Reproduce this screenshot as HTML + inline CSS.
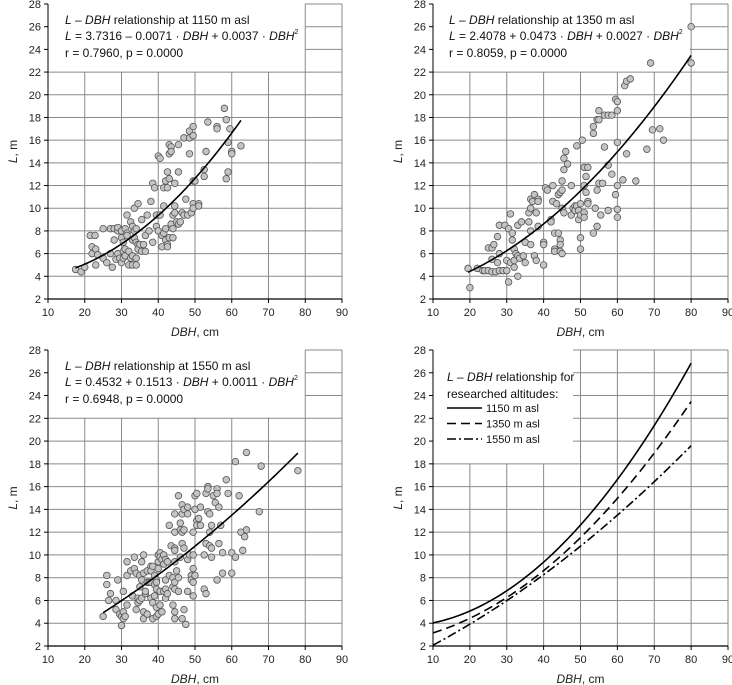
<!DOCTYPE html>
<html><head><meta charset="utf-8"><style>
html,body{margin:0;padding:0;background:#fff}
svg{display:block;font-family:"Liberation Sans",sans-serif}
</style></head><body>
<svg id="chart" width="732" height="685" viewBox="0 0 732 685"></svg>
<script>
const xTicks=[10,20,30,40,50,60,70,80,90];
const yTicks=[2,4,6,8,10,12,14,16,18,20,22,24,26,28];
const coef1150=[3.7316,-0.0071,0.0037];
const coef1350=[2.4078,0.0473,0.0027];
const coef1550=[0.4532,0.1513,0.0011];
const range1150=[17.5,62.5];
const range1350=[19.5,80];
const range1550=[25,78];
const rangeAll=[10,80];
const dbh1150=[17.5,19,20,21.5,22.8,22,22,23,23.5,23,25,25,26,27,28,27,28,28.5,29,29,29,29.5,27.5,30,30,30.5,30.5,30,30.5,31,31,31,31.5,31.5,31.5,32,32,32.5,32.5,33,33,33,33,33.5,33.5,33.5,34,34,34,34,34.5,34.5,34.5,35,35.5,35.5,36,36.5,36.5,37,37.5,38,38.5,38.5,39,39.5,39.5,40,40,40.5,40.5,41,41,41.5,41.5,41.5,42,42,42,42.5,42.5,42.5,42.5,43,43,43,43,43.5,43.5,43.5,44,44,44,44.5,44.5,44.5,45,45.5,45.5,45.5,46,46.5,47,47,47.5,48,48.5,48.5,48.5,49,49.5,49.5,49.5,49.5,49.5,50,51,51,52.5,52.5,53,53.5,56,56,58,58.5,58.5,59,59,59.5,60,60,62.5];
const l1150=[4.6,4.4,4.8,7.6,7.6,6.6,6.0,6.4,5.9,5.0,8.2,5.6,5.2,8.2,8.2,6.0,7.2,5.5,8.0,8.3,6.0,5.6,4.8,8.0,7.4,7.0,6.2,5.2,5.6,8.2,6.4,5.8,9.4,7.8,7.6,6.2,5.0,8.8,5.6,8.4,7.2,5.8,5.0,10.0,8.0,7.4,8.2,7.0,5.6,5.0,10.4,6.8,6.4,6.8,9.0,6.2,6.8,7.6,6.2,9.4,8.0,10.6,7.0,12.2,11.8,9.4,8.4,8.0,14.6,14.4,9.4,7.6,6.6,7.8,11.8,10.2,8.2,7.2,12.4,13.2,11.8,6.8,6.6,12.6,7.4,15.6,14.8,15.4,15.0,8.6,8.2,7.4,9.4,10.2,12.2,9.6,8.8,15.6,13.2,8.6,8.8,9.6,16.2,9.4,10.8,9.4,16.2,14.8,16.8,9.6,17.2,16.4,12.4,10.4,10.0,12.4,10.4,10.2,13.4,12.8,15.0,17.6,17.2,17.0,18.8,17.8,12.6,13.2,15.8,17.0,15.0,14.8,15.5];
const dbh1350=[19.5,20,22,23.5,24,25,25,26,26,26,26.5,27,27.5,27.5,28,28,28,29,29.5,30,30,30.5,30.5,31,31,31.5,31.5,32,32,32,32.5,33,33,33,33.5,34,34.5,35,35,36,36,36.5,36.5,36.5,36.5,37,37.5,37.5,38,38,38.5,38.5,38.5,40,40,40,40.5,41,42,42,42.5,42.5,43,43,43,43.5,44,44,44.5,44.5,44.5,44.5,45,45,45,45,45.5,45.5,45.5,46,46.5,47.5,47.5,48,48.5,48.5,49,49,49.5,49.5,50,50,50,50,50.5,51,51,51,51,51.5,51.5,52,52,52,53.5,53.5,53.5,54,54.5,54.5,54.5,55,55,55,55.5,56,56.5,56.5,57.5,57.5,57.5,58.5,58.5,59.5,59.5,60,60,60,60,60,60,61.5,62,62.5,62.5,63.5,65,68,69,69.5,71.5,72.5,80,80];
const l1350=[4.7,3.0,4.7,4.5,4.5,6.5,4.5,6.5,5.5,4.4,6.8,4.4,7.5,5.2,8.5,6.0,4.5,4.5,8.5,4.5,5.4,3.5,8.2,9.5,5.2,7.8,7.2,6.4,5.4,4.8,6.0,8.5,5.8,4.0,5.6,8.8,5.8,5.2,7.0,8.8,9.6,10.8,10.0,8.0,6.8,10.6,11.2,5.8,9.6,5.4,10.8,10.6,8.4,7.0,6.8,5.0,11.8,11.6,9.0,8.8,10.6,12.0,7.8,6.4,6.2,10.4,11.2,7.8,11.4,7.2,6.8,6.2,12.4,11.6,10.0,6.0,14.4,13.4,9.6,15.0,13.9,12.0,9.4,10.0,10.2,9.8,15.5,10.2,9.0,9.8,10.4,7.4,6.4,9.4,16.0,13.6,12.0,9.6,9.2,12.8,11.4,13.6,10.6,10.4,17.2,16.6,7.8,10.0,17.8,11.6,8.4,18.6,17.8,12.2,9.4,12.2,15.4,18.2,18.2,13.8,9.8,18.2,13.0,19.6,11.2,19.4,18.6,15.8,12.0,9.9,9.2,12.5,20.8,21.2,14.8,21.4,12.4,15.2,22.8,16.9,17.0,16.0,26.0,22.8];
const dbh1550=[25,26,26,26.5,27,28.5,28.5,29,29.5,30,30,30.5,30.5,30.5,31.5,31.5,31.5,31,32.5,33,33.5,33.5,34,34,34.5,34.5,35,35,35,35.5,35.5,35.5,36,36,36,36,36.5,36.5,37,37,37,37.5,38,38,38,38,38.5,38.5,38.5,39,39,39,39.5,39.5,39.5,39.5,39.5,40,40,40,40,40.5,40.5,40.5,40.5,41,41,41.5,41.5,41.5,42,42,42,42,42.5,42.5,43,43,43.5,44,44,44,44.5,44.5,44.5,44.5,44.5,44.5,44.5,44.5,44.5,45,45.5,45.5,45.5,46,46,46,46.5,46.5,46.5,46.5,46.5,47,47,47,47,47.5,48,48,48,48,48.5,49,49,49.5,49.5,49.5,49.5,49.5,50,50,50,50.5,50.5,50.5,51,51.5,51.5,52.5,52.5,53,53,53,53.5,53.5,53.5,54,54,54,54.5,54.5,54.5,55,55.5,56,56,56,56.5,56.5,57,57.5,57.5,58.5,59,60,60,61,61,62,62.5,63,63.5,64,64,67.5,68,78];
const l1550=[4.6,7.4,8.2,6.0,6.6,6.0,5.2,7.8,4.8,3.8,4.6,6.8,5.0,4.4,9.4,8.2,5.6,4.6,8.6,6.4,9.8,8.8,8.4,5.2,6.2,5.8,8.2,7.2,6.0,9.4,7.8,6.2,10.0,8.4,5.0,4.4,6.6,6.8,8.6,7.6,4.8,7.6,9.0,8.6,7.6,6.2,9.0,5.8,4.4,8.2,7.4,6.4,7.8,7.6,7.0,5.4,4.6,10.0,9.4,8.8,4.8,10.2,9.8,6.8,5.6,9.6,5.0,10.0,9.2,6.8,9.6,7.8,7.0,6.2,9.4,6.6,12.6,8.2,10.8,5.6,8.0,7.2,13.6,12.0,10.6,10.4,9.4,7.6,7.0,5.0,4.4,8.6,15.2,8.0,6.8,12.8,12.2,9.8,14.4,13.6,12.0,11.0,4.4,14.0,12.2,10.6,5.2,3.9,13.6,14.2,9.6,6.8,10.0,8.2,7.8,12.0,10.0,8.8,7.6,6.4,15.2,14.0,8.2,15.4,13.0,12.6,13.2,14.2,12.6,10.0,7.0,15.4,11.0,6.6,16.0,15.8,13.8,13.6,12.0,10.8,12.6,10.6,9.8,15.2,14.6,15.8,15.4,7.8,14.2,11.0,12.6,10.2,8.4,16.6,15.4,10.2,8.4,9.8,18.2,15.2,12.0,10.4,11.6,12.2,19.0,13.8,17.8,17.4];

const NS='http://www.w3.org/2000/svg';
const svg=document.getElementById('chart');
function mk(tag,attrs,parent){const e=document.createElementNS(NS,tag);for(const k in attrs)e.setAttribute(k,attrs[k]);(parent||svg).appendChild(e);return e;}
function quad(c,x){return c[0]+c[1]*x+c[2]*x*x;}

function panel(name,L,R,T,B,box){
  const g=mk('g',{});
  
  
  const sx=v=>L+(v-10)/80*(R-L);
  const sy=v=>B-(v-2)/26*(B-T);
  yTicks.forEach(v=>{
    const y=sy(v);
    let x1=L; if(y<box.b-0.5) x1=box.r;
    if(v>2){const ln=mk('line',{x1:x1,x2:R,y1:y,y2:y,stroke:'#8a8a8a','stroke-width':1},g);
      
      }
    const t=mk('text',{x:L-7,y:y+4,'text-anchor':'end','font-size':11,fill:'#222'},g);
    
    
    t.textContent=v;
    mk('line',{x1:L-4,x2:L,y1:y,y2:y,stroke:'#000','stroke-width':1},g);
  });
  xTicks.forEach(v=>{
    const x=sx(v);
    let y1=T; if(x<box.r-0.5) y1=box.b;
    if(v>10){const ln=mk('line',{x1:x,x2:x,y1:y1,y2:B,stroke:'#8a8a8a','stroke-width':1},g);
      
      }
    const t=mk('text',{x:x,y:B+17,'text-anchor':'middle','font-size':11,fill:'#222'},g);
    
    
    t.textContent=v;
    mk('line',{x1:x,x2:x,y1:B,y2:B+4,stroke:'#000','stroke-width':1},g);
  });
  mk('line',{x1:L,x2:L,y1:T,y2:B,stroke:'#000','stroke-width':1},g);
  mk('line',{x1:L,x2:R,y1:B,y2:B,stroke:'#000','stroke-width':1.2},g);
  const yt=mk('text',{x:0,y:0,transform:`translate(${L-31},${(T+B)/2}) rotate(-90)`,'text-anchor':'middle','font-size':12,fill:'#222'},g);
  
  
  yt.innerHTML='<tspan font-style="italic">L</tspan>, m';
  const xt=mk('text',{x:(L+R)/2,y:B+37,'text-anchor':'middle','font-size':12,fill:'#222'},g);
  
  
  xt.innerHTML='<tspan font-style="italic">DBH</tspan>, cm';
  return {g,sx,sy};
}
function curve(p,coef,range,dash,name){
  let d='';
  for(let i=0;i<=80;i++){const x=range[0]+(range[1]-range[0])*i/80;d+=(i?'L':'M')+p.sx(x).toFixed(2)+','+p.sy(quad(coef,x)).toFixed(2);}
  const e=mk('path',{d:d,fill:'none',stroke:'#000','stroke-width':1.6,'stroke-dasharray':dash||'none'},p.g);
  
  
}
function points(p,xs,ys,name){
  xs.forEach((x,i)=>{
    const c=mk('circle',{cx:p.sx(x),cy:p.sy(ys[i]),r:3.3,fill:'#c4c4c4',stroke:'#555','stroke-width':0.8},p.g);
    
    
  });
}
function textBox(p,x,y,alt,eq){
  const t=mk('text',{x:x,y:y,'font-size':12,fill:'#111'},p.g);
  
  
  t.innerHTML='<tspan font-style="italic">L</tspan> – <tspan font-style="italic">DBH</tspan> relationship at '+alt+' m asl';
  const e=mk('text',{x:x,y:y+16,'font-size':12,fill:'#111'},p.g);
  
  
  e.innerHTML=eq;
  return e;
}
function stat(p,x,y,txt){
  const r=mk('text',{x:x,y:y+33,'font-size':12,fill:'#111'},p.g);
  
  
  r.textContent=txt;
}

const p1=panel('panel-1150',48,342,4,299,{r:305,b:72});
points(p1,dbh1150,l1150,'point-1150');
curve(p1,coef1150,range1150,null,'fit-curve-1150');
textBox(p1,65,24,'1150','<tspan font-style="italic">L</tspan> = 3.7316 – 0.0071 · <tspan font-style="italic">DBH</tspan> + 0.0037 · <tspan font-style="italic">DBH</tspan><tspan font-size="7" dy="-6">2</tspan>');
stat(p1,65,24,'r = 0.7960, p = 0.0000');

const p2=panel('panel-1350',433,728,4,299,{r:690,b:72});
points(p2,dbh1350,l1350,'point-1350');
curve(p2,coef1350,range1350,null,'fit-curve-1350');
textBox(p2,449,24,'1350','<tspan font-style="italic">L</tspan> = 2.4078 + 0.0473 · <tspan font-style="italic">DBH</tspan> + 0.0027 · <tspan font-style="italic">DBH</tspan><tspan font-size="7" dy="-6">2</tspan>');
stat(p2,449,24,'r = 0.8059, p = 0.0000');

const p3=panel('panel-1550',48,342,350,646,{r:305,b:418});
points(p3,dbh1550,l1550,'point-1550');
curve(p3,coef1550,range1550,null,'fit-curve-1550');
textBox(p3,65,370,'1550','<tspan font-style="italic">L</tspan> = 0.4532 + 0.1513 · <tspan font-style="italic">DBH</tspan> + 0.0011 · <tspan font-style="italic">DBH</tspan><tspan font-size="7" dy="-6">2</tspan>');
stat(p3,65,370,'r = 0.6948, p = 0.0000');

const p4=panel('panel-comparison',433,728,350,646,{r:573,b:464});
curve(p4,coef1150,rangeAll,null,'curve-1150');
curve(p4,coef1350,rangeAll,'9,5','curve-1350');
curve(p4,coef1550,rangeAll,'9,3,2,3','curve-1550');
const lt=mk('text',{x:447,y:381,'font-size':12,fill:'#111'},p4.g);


lt.innerHTML='<tspan font-style="italic">L</tspan> – <tspan font-style="italic">DBH</tspan> relationship for';
const lt2=mk('text',{x:447,y:398,'font-size':12,fill:'#111'},p4.g);


lt2.textContent='researched altitudes:';
const legLabels=['1150 m asl','1350 m asl','1550 m asl'];
const legDash=['none','9,5','9,3,2,3'];
legLabels.forEach((s,i)=>{
  const y=408+i*15.5;
  const g=mk('g',{},p4.g);
  
  
  mk('line',{x1:447,x2:482,y1:y,y2:y,stroke:'#000','stroke-width':1.5,'stroke-dasharray':legDash[i]},g);
  const t=mk('text',{x:486,y:y+4,'font-size':11,fill:'#111'},g);
  t.textContent=s;
});
</script>
</body></html>
